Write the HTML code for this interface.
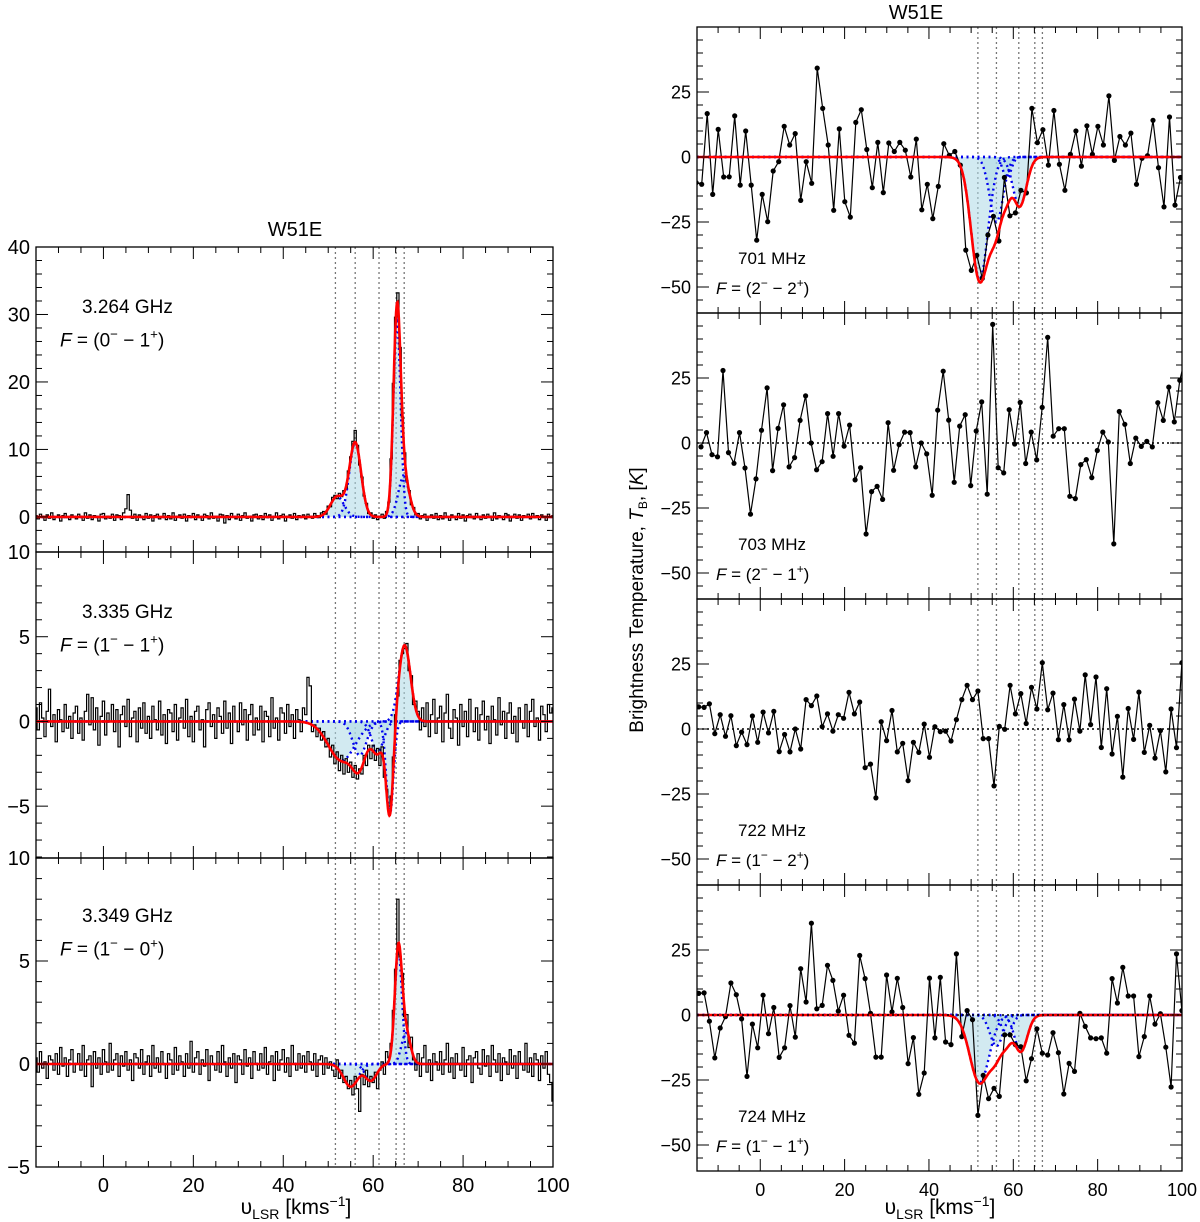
<!DOCTYPE html>
<html><head><meta charset="utf-8"><title>W51E spectra</title>
<style>
html,body{margin:0;padding:0;background:#fff;}
svg{display:block;font-family:"Liberation Sans","DejaVu Sans",sans-serif;}
</style></head>
<body>
<svg id="fig" width="1200" height="1222" viewBox="0 0 1200 1222" xmlns="http://www.w3.org/2000/svg"></svg>
<script>
// ---------- Left panel data (v from -15 step 0.5) ----------
const L_v0 = -15, L_dv = 0.5;
const L1_data = [0.2,-0.3,0.4,0.1,-0.5,0.3,-0.2,0.6,-0.4,0.0,0.3,-0.6,0.2,0.5,-0.1,-0.4,0.3,0.0,-0.3,0.4,
0.1,-0.5,0.6,-0.2,0.3,-0.4,0.2,0.0,-0.6,0.4,0.5,-0.3,0.1,-0.2,0.4,-0.5,0.3,0.2,-0.4,0.6,
1.2,3.3,1.0,-0.2,0.4,-0.5,0.3,0.1,-0.4,0.5,-0.2,0.3,-0.6,0.2,0.4,-0.3,0.0,0.5,-0.4,0.2,
-0.3,0.6,-0.5,0.1,0.3,-0.2,0.4,-0.6,0.2,0.0,0.5,-0.4,0.3,-0.1,-0.5,0.4,0.2,-0.3,0.6,-0.2,
0.1,-0.6,0.4,0.3,-0.9,0.2,-0.4,0.5,0.0,-0.3,0.4,-0.5,0.2,0.6,-0.2,0.1,-0.6,0.3,0.4,-0.3,
0.2,-0.4,0.5,-0.1,0.3,-0.5,0.0,0.6,-0.3,0.2,0.4,-0.6,0.1,0.3,-0.2,0.5,-0.4,0.2,0.0,0.3,
-0.3,0.4,0.1,-0.2,0.5,0.2,-0.1,0.6,0.8,0.4,1.6,1.5,2.9,3.2,2.7,3.5,3.0,3.9,4.3,6.8,
8.9,11.2,12.8,10.6,7.7,5.9,3.1,2.0,0.5,0.6,-0.2,0.3,-0.4,0.1,0.4,-0.2,0.8,2.2,8.6,19.8,
29.6,33.2,25.1,14.8,9.5,5.4,3.9,1.8,1.4,0.3,0.5,-0.3,0.2,0.4,-0.5,0.1,0.3,-0.2,0.5,-0.4,
0.2,-0.3,0.6,0.0,-0.5,0.3,0.1,-0.4,0.5,-0.2,0.3,-0.6,0.2,0.4,-0.1,-0.3,0.5,0.0,-0.4,0.3,
-0.2,0.4,0.1,-0.5,0.6,-0.3,0.2,0.0,-0.4,0.5,0.3,-0.6,0.1,0.4,-0.2,0.3,-0.5,0.2,0.0,0.4,
-0.3,0.5,-0.1,0.2,-0.4,0.3,0.1,-0.5,0.4,0.0,0.2];
const L2_data = [0.8,-0.5,1.1,0.2,-0.9,0.6,1.9,-0.3,0.4,-1.2,0.7,0.1,-0.6,1.0,-0.4,0.3,-1.0,0.5,0.9,-0.7,
0.2,-1.1,0.6,1.6,-0.2,1.4,-0.5,0.8,-1.4,0.3,1.2,-0.8,0.5,0.0,1.0,-0.6,0.7,-1.5,0.4,0.9,
-0.3,1.3,-0.9,0.2,0.6,-1.2,0.8,-0.4,1.1,-0.7,0.3,-1.0,0.9,0.1,-0.5,1.2,-0.8,0.4,-1.3,0.7,
0.5,-0.6,1.0,-1.1,0.2,0.8,-0.4,1.3,-0.9,0.3,-1.2,0.6,0.9,-0.5,0.1,-1.5,0.7,1.1,-0.3,0.4,
-1.0,0.8,0.3,-0.7,1.2,-0.4,0.5,-1.3,0.9,0.0,-0.6,1.1,-0.2,0.7,-1.1,0.4,1.0,-0.8,0.2,-0.5,
0.9,-1.2,0.6,0.3,-0.9,1.4,-0.4,0.2,-1.1,0.8,0.5,-0.7,1.0,-0.3,0.4,-1.0,0.7,0.1,-0.6,0.8,
0.4,2.6,2.1,-0.6,-0.2,-0.9,-0.4,-1.1,-0.6,-1.5,-1.0,-2.1,-1.4,-2.5,-1.8,-2.9,-2.0,-3.1,-2.2,-3.0,
-2.4,-3.3,-2.6,-3.4,-2.8,-3.1,-2.0,-2.6,-1.4,-2.2,-1.4,-2.3,-1.6,-2.6,-1.5,-3.3,-4.0,-5.0,-4.4,-2.1,
0.4,1.5,3.6,4.0,4.3,4.6,3.0,2.7,1.0,1.2,0.6,-0.5,0.8,-0.3,1.1,-0.9,0.4,1.3,-0.7,0.2,
0.9,-1.2,0.5,1.6,-0.4,-1.0,0.7,0.2,-1.4,1.0,-0.3,0.6,-0.9,1.3,0.0,-0.6,0.8,-1.1,0.4,1.2,
-0.5,0.3,-1.3,0.9,0.1,-0.8,1.4,-0.2,0.6,-1.0,0.5,1.1,-0.7,0.3,-1.2,0.8,0.0,-0.4,1.0,-0.9,
0.6,1.3,-0.3,0.2,-1.1,0.9,0.4,-0.6,1.0,0.5,0.8];
const L3_data = [0.3,-0.4,0.6,-0.2,0.1,-0.7,0.4,0.2,-0.3,0.5,-0.5,0.8,-0.1,0.3,-0.6,0.2,0.7,-0.4,0.0,0.5,
-0.3,0.9,-0.6,0.2,0.4,-1.1,0.6,-0.2,0.3,-0.5,0.7,0.1,-0.4,1.0,-0.3,0.2,0.5,-0.6,0.4,-0.1,
0.6,-0.3,0.2,-0.8,0.5,0.3,-0.2,0.7,-0.5,0.1,0.4,-0.6,0.9,-0.2,0.3,-0.4,0.6,0.0,-0.7,0.5,
0.2,-0.5,0.8,-0.3,0.4,0.1,-0.6,0.5,-0.2,1.1,-0.4,0.3,0.6,-0.5,0.2,-0.1,0.7,-0.8,0.4,0.0,
-0.3,0.6,-0.4,0.9,0.1,-0.6,0.3,-0.2,0.5,-0.9,0.4,0.2,-0.5,0.7,-0.1,0.3,-0.7,0.6,0.0,-0.3,
0.5,-0.2,0.8,-0.5,0.1,0.4,-0.8,0.6,-0.3,0.2,0.7,-0.4,0.3,-0.6,0.9,0.0,-0.3,0.5,-0.2,0.4,
-0.4,0.6,0.1,-0.3,0.5,-0.6,0.2,0.4,-0.5,0.3,-0.2,0.1,-0.3,-0.6,0.2,-0.7,-0.3,-0.9,-0.6,-1.2,
-0.8,-1.5,-0.6,-1.2,-2.3,-0.5,-1.0,-0.3,-1.1,-0.6,-0.9,-0.4,-1.2,-0.3,0.1,-0.5,0.6,0.3,1.0,2.6,
4.6,8.0,5.2,4.4,2.3,2.4,0.8,1.3,0.2,-0.3,0.5,-0.6,0.3,0.9,-0.4,0.2,-0.8,0.5,0.1,-0.3,
0.6,-0.5,0.2,1.0,-0.4,0.3,-0.7,0.5,0.0,-0.3,0.8,-0.6,0.2,0.4,-0.9,0.3,0.6,-0.2,-0.5,0.7,
-0.1,0.4,-0.6,0.9,0.2,-0.4,0.5,-0.8,0.3,0.1,-0.5,0.7,-0.2,0.4,-0.7,0.6,0.0,-0.3,1.0,-0.4,
0.3,-0.6,0.5,0.2,-0.8,0.4,-0.2,0.6,-0.5,-0.9,-1.8];
// Gaussian fit components (amplitude, centre, sigma)
const L1_amp=[3,11,29,6], L1_cen=[52,56,65.3,66.8], L1_sig=[1.5,1.3,0.8,1.2];
const L2_amp=[-2.3,-2.0,-1.8,-5.5,4.5], L2_cen=[53,57,61,63.7,67], L2_sig=[3.0,1.5,1.3,0.8,1.3];
const L3_amp=[-1.1,-0.8,5.5,1.5], L3_cen=[55,59.5,65.6,67.3], L3_sig=[1.6,1.3,0.8,1.0];

// ---------- Right panel data ----------
const R1_v0=-15.2, R1_dv=1.305;
const R1_data=[-9.9,-10.5,16.7,-14.4,10.6,-7.7,-7.6,15.8,-10.8,10,
-10.8,-32,-14.4,-24.9,-5.4,-1.8,11.8,4.6,9,-16.7,
-1.8,-10.1,34.2,18.7,4.6,-20.5,10.8,-17.2,-23.1,13.3,
18.2,2.9,-11.8,5.6,-13.7,5.4,2.1,5.6,2.6,-7.7,
6.9,-20.3,-10.5,-23.7,-11.3,5.1,0.6,2.1,-3.1,-35.8,
-43.6,-37.8,-46.7,-30,-22.8,-32.3,-7.9,-22.6,-21.5,-12.8,
-13.8,18.7,5.5,10.5,-3.1,17.9,-2.8,-12.8,1,10,
-3.5,12,1,11.8,4.6,23.5,-1.3,7.9,4.6,9.2,
-10.5,-0.5,0.5,14.1,-4.1,-19.2,15.4,-18.5,-7.9];
const R2_v0=-14.05, R2_dv=1.305;
const R2_data=[-1.5,4,-4.5,-5.3,27.9,-3.7,-7.8,4,-9.6,-27.4,
-13.8,4.9,21.2,-10.6,5.6,14.7,-9.2,-5.6,8.7,18.1,
0,-10.3,-7.2,11.3,-5.1,11.3,-1.2,6.9,-14.2,-9.5,
-35,-18.7,-16.7,-21.7,7.8,-10.5,-0.6,4.2,4,-9.2,
0,-4.2,-20.1,12.6,27.6,8.8,-15.1,6.5,10.9,-16.4,
4.6,15.8,-19.7,45.6,-9.5,-11.5,12.8,-0.4,15.6,-7.9,
4.2,-6.5,13.7,40.6,2.6,5.5,5.5,-20.5,-21.4,-8.3,
-6.4,-13.3,-2.9,4.2,0.4,-38.8,12.1,7.2,-7.9,1.9,
-1.3,0.6,-1.5,15.5,8.7,21.5,8.1,24.1,32.8];
const R3_v0=-14.6, R3_dv=1.273;
const R3_data=[8.5,8.3,9.7,-1.8,5.5,-2.8,5.1,-6.4,-1.2,-6,
5,-5.1,6.5,-1.5,6.8,-8.7,-2.1,-8.8,0,-7.7,
11.3,9,12.7,0.9,5.8,-0.8,5.5,4.1,14.1,5.8,
10.4,-14.9,-13.5,-26.5,2.8,-4.5,7.1,-8.8,-5.5,-19.9,
-5.1,-9,1.9,-10.9,0.9,-1,-0.8,-4.6,3.6,11.3,
16.8,11.3,14.6,-3.7,-3.7,-21.9,1,-0.1,16.8,5.8,
13.6,2.1,16,7.7,25.5,7.4,13.8,-4.1,9.4,-4.2,
11.5,-0.8,20.8,1.7,20,-7.1,15.5,-9.6,4.9,-18.5,
7.9,-4,14.2,-9,1.4,-11.2,-0.6,-16.5,7.7,-7.2,
25.5,13.2];
const R4_v0=-14.6, R4_dv=1.273;
const R4_data=[8.3,8.5,-2.4,-16.5,-5,-0.6,12.3,7.8,-1.5,-23.6,
-3.5,-12.6,7.6,-7.2,2.9,-16.3,-12.6,3.6,-8.5,17.8,
5,35.3,2.4,3.7,19.1,13.3,1.5,7.6,-7.8,-10.8,
22.9,14,0.6,-16.2,-16.2,15.4,1.2,14.1,2.9,-18.7,
-8.7,-30.5,-22.3,14.2,-8.8,14.5,-10.4,-11.4,23.5,-8.3,
1.7,-1.8,-38.6,-23.2,-32.2,-28.2,-31.3,-7.6,-7.6,-11.4,
-12.2,-25.3,-16.8,-5.3,-14.7,-15.4,-6.8,-14.5,-30.4,-18.6,
-21.7,0.6,-4.4,-8.8,-9.1,-8.8,-14.7,14,4.6,18.3,
7.3,7.3,-16,-8.3,7.3,-3.5,0.5,-12.4,-27.7,23.5,
1.7,9.1];
const R1_amp=[-47,-25,-8,-19], R1_cen=[52,56,58.5,61.5], R1_sig=[2.0,1.6,1.0,1.6];
const R4_amp=[-26,-12,-8,-14], R4_cen=[52,56,58.5,61.8], R4_sig=[2.3,1.5,1.2,1.5];

const VLINES=[51.6,56,61.3,65.1,66.9];
const L_yt1=[0,10,20,30,40], L_yt2=[-5,0,5,10], L_yt3=[-5,0,5,10];
const R_yt=[-50,-25,0,25];
const X_ticks=[0,20,40,60,80,100];

// ---------- helpers ----------
const NS="http://www.w3.org/2000/svg";
const svg=document.getElementById('fig');
function el(tag,attrs,parent){const e=document.createElementNS(NS,tag);for(const k in attrs)e.setAttribute(k,attrs[k]);(parent||svg).appendChild(e);return e;}
function g1(a,c,s,v){const d=v-c;return a*Math.exp(-(d*d)/(2*s*s));}
function gauss(amp,cen,sig,v){let s=0;for(let i=0;i<amp.length;i++)s+=g1(amp[i],cen[i],sig[i],v);return s;}

function makePanel(name,x0,x1,top,bot,ymin,ymax){
  const P={x0,x1,top,bot,ymin,ymax,
    X:v=>x0+(v-(-15))/(115)*(x1-x0),
    Y:t=>bot-(t-ymin)/(ymax-ymin)*(bot-top)};
  const g=el('g',{});
  
  
  const cid='clip-'+name;
  const cp=el('clipPath',{id:cid},g);el('rect',{x:x0,y:top,width:x1-x0,height:bot-top},cp);
  P.g=g;P.plot=el('g',{'clip-path':'url(#'+cid+')'},g);
  
  
  return P;
}
function drawFrame(P,yticks,yMinorStep,labels,fs){
  const g=P.g;
  const fr=el('rect',{x:P.x0,y:P.top,width:P.x1-P.x0,height:P.bot-P.top,fill:'none',stroke:'#000','stroke-width':1.3},g);
  
  
  for(let v=-15;v<=100;v+=5){
    const major=(v%20===0);const L=major?12:6;const x=P.X(v);
    el('line',{x1:x,x2:x,y1:P.bot,y2:P.bot-L,stroke:'#000','stroke-width':1},g);
    el('line',{x1:x,x2:x,y1:P.top,y2:P.top+L,stroke:'#000','stroke-width':1},g);
  }
  const start=Math.ceil(P.ymin/yMinorStep)*yMinorStep;
  for(let t=start;t<=P.ymax+1e-6;t+=yMinorStep){
    const tt=Math.round(t*100)/100;const major=yticks.indexOf(tt)>=0;const L=major?12:6;const y=P.Y(tt);
    el('line',{x1:P.x0,x2:P.x0+L,y1:y,y2:y,stroke:'#000','stroke-width':1},g);
    el('line',{x1:P.x1,x2:P.x1-L,y1:y,y2:y,stroke:'#000','stroke-width':1},g);
  }
  if(labels){
    yticks.forEach(t=>{
      const tx=el('text',{x:P.x0-6,y:P.Y(t)+fs*0.36,'font-size':fs,'text-anchor':'end',fill:'#000'},g);
      tx.textContent=(t<0?'\u2212'+Math.abs(t):String(t));
      
      
    });
  }
}
function vlines(P){
  VLINES.forEach(v=>{const l=el('line',{x1:P.X(v),x2:P.X(v),y1:P.top,y2:P.bot,stroke:'#777','stroke-width':1.3,'stroke-dasharray':'2,3'},P.plot);
    
    });
}
function drawFit(P,amp,cen,sig,v0,v1){
  for(let i=0;i<amp.length;i++){
    let d='M'+P.X(v0)+','+P.Y(0);
    for(let v=v0;v<=v1;v+=0.1)d+=' L'+P.X(v).toFixed(1)+','+P.Y(g1(amp[i],cen[i],sig[i],v)).toFixed(1);
    d+=' L'+P.X(v1)+','+P.Y(0)+'Z';
    const f=el('path',{d,fill:'#add8e6','fill-opacity':0.55,stroke:'none'},P.plot);
    
    
  }
  for(let i=0;i<amp.length;i++){
    let d='';
    for(let v=-15;v<=100;v+=0.1)d+=(d?' L':'M')+P.X(v).toFixed(1)+','+P.Y(g1(amp[i],cen[i],sig[i],v)).toFixed(1);
    const c=el('path',{d,fill:'none',stroke:'#0000ee','stroke-width':2.4,'stroke-dasharray':'2,3.5'},P.plot);
    
    
  }
  let d='';
  for(let v=-15;v<=100;v+=0.1)d+=(d?' L':'M')+P.X(v).toFixed(1)+','+P.Y(gauss(amp,cen,sig,v)).toFixed(1);
  P.fitPath=d;
}
function drawRed(P){
  const r=el('path',{d:P.fitPath,fill:'none',stroke:'#ff0000','stroke-width':2.6},P.plot);
  
  
}
function stepLine(P,data){
  let d='';
  for(let i=0;i<data.length;i++){
    const v=L_v0+i*L_dv;const xa=P.X(v-L_dv/2),xb=P.X(v+L_dv/2),y=P.Y(data[i]).toFixed(1);
    d+=(d?' L':'M')+xa.toFixed(1)+','+y+' L'+xb.toFixed(1)+','+y;
  }
  const s=el('path',{d,fill:'none',stroke:'#000','stroke-width':1.2},P.plot);
  
  
}
function dotLine(P,data,v0,dv){
  let d='';
  data.forEach((t,i)=>{d+=(d?' L':'M')+P.X(v0+i*dv).toFixed(1)+','+P.Y(t).toFixed(1);});
  const s=el('path',{d,fill:'none',stroke:'#000','stroke-width':1.2},P.plot);
  
  
  data.forEach((t,i)=>{const c=el('circle',{cx:P.X(v0+i*dv).toFixed(1),cy:P.Y(t).toFixed(1),r:2.6,fill:'#000'},P.plot);
    
    });
}
function zeroDotted(P){
  const z=el('line',{x1:P.x0,x2:P.x1,y1:P.Y(0),y2:P.Y(0),stroke:'#000','stroke-width':1.6,'stroke-dasharray':'2,3'},P.plot);
  
  
}
function label(P,x,y,freq,a,b,fs,name){
  const g=el('g',{},P.g);
  
  
  const t1=el('text',{x:x+22,y:y,'font-size':fs,fill:'#000'},g);t1.textContent=freq;
  const t2=el('text',{x:x,y:y+fs*1.75,'font-size':fs,fill:'#000'},g);
  const f=el('tspan',{'font-style':'italic'},t2);f.textContent='F';
  const e1=el('tspan',{},t2);e1.textContent=' = ('+a;
  const s1=el('tspan',{'font-size':fs*0.7,dy:-fs*0.4},t2);s1.textContent='\u2212';
  const m=el('tspan',{dy:fs*0.4},t2);m.textContent=' \u2212 '+b;
  const s2=el('tspan',{'font-size':fs*0.7,dy:-fs*0.4},t2);s2.textContent='+';
  const e2=el('tspan',{dy:fs*0.4},t2);e2.textContent=')';
}

// ---------- Left column ----------
const LX0=36,LX1=553;
const P1=makePanel('panel-3264',LX0,LX1,247,552,-5.2,40);
vlines(P1);drawFit(P1,L1_amp,L1_cen,L1_sig,45,72);stepLine(P1,L1_data);drawRed(P1);
drawFrame(P1,L_yt1,2,true,20);label(P1,60,313,'3.264 GHz','0','1',19,'label-3264');
const P2=makePanel('panel-3335',LX0,LX1,552,858,-8.06,10);
vlines(P2);drawFit(P2,L2_amp,L2_cen,L2_sig,44,72);stepLine(P2,L2_data);drawRed(P2);
drawFrame(P2,L_yt2,1,true,20);label(P2,60,618,'3.335 GHz','1','1',19,'label-3335');
const P3=makePanel('panel-3349',LX0,LX1,858,1167,-5,10);
vlines(P3);drawFit(P3,L3_amp,L3_cen,L3_sig,48,72);stepLine(P3,L3_data);drawRed(P3);
drawFrame(P3,L_yt3,1,true,20);label(P3,60,922,'3.349 GHz','1','0',19,'label-3349');
X_ticks.forEach(v=>{const t=el('text',{x:P3.X(v),y:1192,'font-size':20,'text-anchor':'middle'});t.textContent=String(v);
  
  });

// ---------- Right column ----------
const RX0=697,RX1=1182;
const RP=[];
const tops=[27,313,599,885];
const rnames=['panel-701','panel-703','panel-722','panel-724'];
for(let k=0;k<4;k++)RP.push(makePanel(rnames[k],RX0,RX1,tops[k],tops[k]+286,-60,50));
vlines(RP[0]);drawFit(RP[0],R1_amp,R1_cen,R1_sig,44,70);dotLine(RP[0],R1_data,R1_v0,R1_dv);drawRed(RP[0]);
vlines(RP[1]);zeroDotted(RP[1]);dotLine(RP[1],R2_data,R2_v0,R2_dv);
vlines(RP[2]);zeroDotted(RP[2]);dotLine(RP[2],R3_data,R3_v0,R3_dv);
vlines(RP[3]);drawFit(RP[3],R4_amp,R4_cen,R4_sig,44,70);dotLine(RP[3],R4_data,R4_v0,R4_dv);drawRed(RP[3]);zeroDotted(RP[3]);
const rl=[['701 MHz','2','2'],['703 MHz','2','1'],['722 MHz','1','2'],['724 MHz','1','1']];
for(let k=0;k<4;k++){drawFrame(RP[k],R_yt,5,true,18);label(RP[k],716,tops[k]+237,rl[k][0],rl[k][1],rl[k][2],17,'label-'+rl[k][0].split(' ')[0]);}
X_ticks.forEach(v=>{const t=el('text',{x:RP[3].X(v),y:1196,'font-size':18,'text-anchor':'middle'});t.textContent=String(v);
  
  });

// ---------- titles & axis labels ----------
function txt(x,y,s,fs,name){const t=el('text',{x,y,'font-size':fs,'text-anchor':'middle'});t.textContent=s;
  
  return t;}
txt(295,236,'W51E',20,'left-title');
txt(916,19,'W51E',20,'right-title');
function xlab(cx,y,name){const t=el('text',{x:cx,y:y,'font-size':21,'text-anchor':'middle'});
  
  
  const a=el('tspan',{},t);a.textContent='\u03C5';
  const b=el('tspan',{'font-size':14,dy:5},t);b.textContent='LSR';
  const c=el('tspan',{dy:-5},t);c.textContent=' [kms';
  const d=el('tspan',{'font-size':14,dy:-8},t);d.textContent='\u22121';
  const e=el('tspan',{dy:8},t);e.textContent=']';}
xlab(296,1214,'left-x-axis-title');
xlab(940,1214,'right-x-axis-title');
const yl=el('text',{x:0,y:0,'font-size':19,'text-anchor':'middle',transform:'translate(643,600) rotate(-90)'});


const ya=el('tspan',{},yl);ya.textContent='Brightness Temperature, ';
const yb=el('tspan',{'font-style':'italic'},yl);yb.textContent='T';
const yc=el('tspan',{'font-size':12,dy:4},yl);yc.textContent='B';
const yd=el('tspan',{dy:-4},yl);yd.textContent=', [';
const ye=el('tspan',{'font-style':'italic'},yl);ye.textContent='K';
const yf=el('tspan',{},yl);yf.textContent=']';
</script>
</body></html>
